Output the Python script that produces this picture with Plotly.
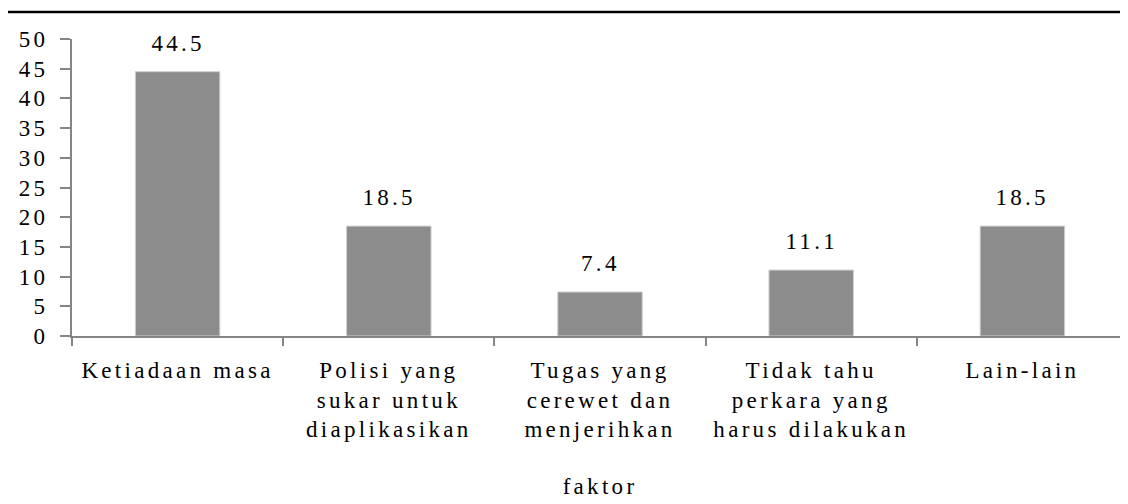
import plotly.graph_objects as go

categories = ["Ketiadaan masa", "Polisi yang<br>sukar untuk<br>diaplikasikan",
              "Tugas yang<br>cerewet dan<br>menjerihkan",
              "Tidak tahu<br>perkara yang<br>harus dilakukan", "Lain-lain"]
values = [44.5, 18.5, 7.4, 11.1, 18.5]
value_labels = ["44.5", "18.5", "7.4", "11.1", "18.5"]
y_ticks = [0, 5, 10, 15, 20, 25, 30, 35, 40, 45, 50]
x_title = "faktor"

FONT = "Liberation Serif"
FS = 23

fig = go.Figure()
fig.add_trace(go.Bar(
    x=categories, y=values, width=0.4,
    marker=dict(color="#8c8c8c", line=dict(color="#cfcfcf", width=1)),
    hoverinfo="skip",
))

for c, v, t in zip(categories, values, value_labels):
    fig.add_annotation(x=c, y=v, text=t, showarrow=False, yanchor="bottom",
                       yshift=14, font=dict(family=FONT, size=FS, color="black"))

fig.add_shape(type="line", xref="paper", yref="paper",
              x0=-0.0625, x1=1.01, y0=1.0909, y1=1.0909,
              line=dict(color="black", width=2.5))

fig.update_layout(
    width=1120, height=496,
    margin=dict(l=64, r=0, t=31, b=168),
    paper_bgcolor="white", plot_bgcolor="white",
    showlegend=False,
    font=dict(family=FONT, size=FS, color="black"),
    bargap=0.6,
)
fig.update_xaxes(
    type="category", showgrid=False, showline=True, linecolor="#858585", linewidth=2,
    ticks="outside", tickson="boundaries", ticklen=8, tickwidth=2, tickcolor="#858585",
    tickfont=dict(family=FONT, size=FS, color="black"),
    ticklabelstandoff=12,
    title=dict(text=x_title, font=dict(family=FONT, size=FS, color="black"), standoff=36),
)
fig.update_yaxes(
    range=[0, 50], tickvals=y_ticks, showgrid=False, zeroline=False,
    showline=True, linecolor="#858585", linewidth=2,
    ticks="outside", ticklen=10, tickwidth=2, tickcolor="#858585",
    tickfont=dict(family=FONT, size=FS, color="black"),
    ticklabelstandoff=7,
)

post = ("document.querySelectorAll('text').forEach(function(t){"
        "t.style.letterSpacing='3.3px';});")
fig.write_html("out.html", post_script=post)
